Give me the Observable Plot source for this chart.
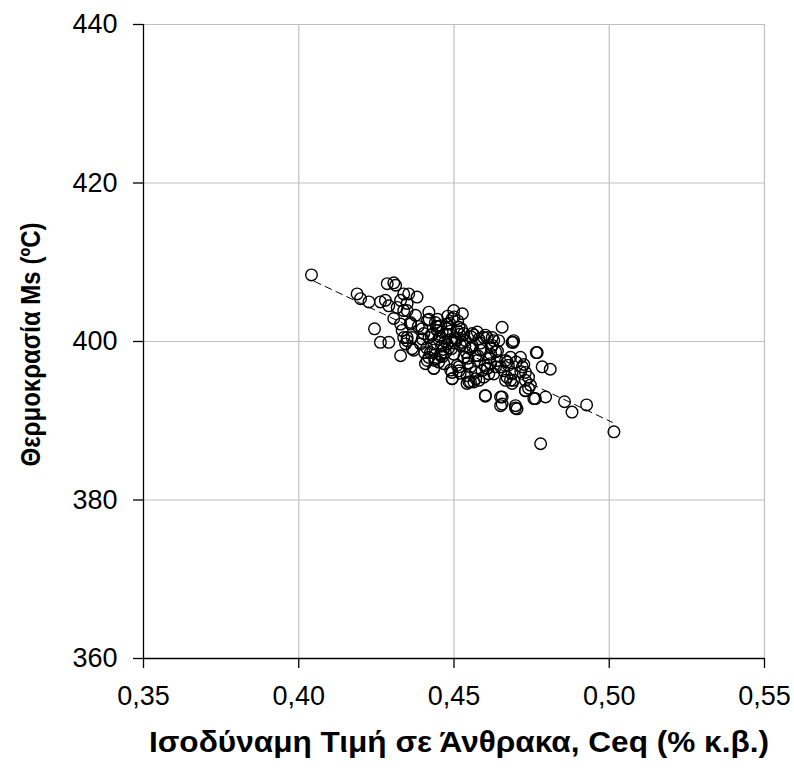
<!DOCTYPE html>
<html>
<head>
<meta charset="utf-8">
<script src="https://cdn.jsdelivr.net/npm/d3@7"></script>
<script src="https://cdn.jsdelivr.net/npm/@observablehq/plot@0.6"></script>
<style>
  html, body { margin: 0; padding: 0; background: #fff; }
</style>
</head>
<body>
<div id="chart"></div>
<script>
// Ceq (% wt) values
const ceq = [
  0.4041, 0.4188, 0.4199, 0.4226, 0.4263, 0.4285, 0.4306, 0.4312, 0.4338, 0.4279,
  0.4290, 0.4244, 0.4263, 0.4290, 0.4306, 0.4328, 0.4333, 0.4338, 0.4349, 0.4317,
  0.4349, 0.4328, 0.4344, 0.4354, 0.4349, 0.4360, 0.4376, 0.4397, 0.4440, 0.4478,
  0.4494, 0.4516, 0.4559, 0.4575, 0.4601, 0.4623, 0.4644, 0.4365, 0.4419, 0.4451,
  0.4494, 0.4537, 0.4381, 0.4419, 0.4499, 0.4527, 0.4655, 0.4360, 0.4349, 0.4370,
  0.4414, 0.4435, 0.4457, 0.4494, 0.4542, 0.4564, 0.4607, 0.4639, 0.4682, 0.4671,
  0.4692, 0.4692, 0.4628, 0.4596, 0.4564, 0.4532, 0.4510, 0.4478, 0.4446, 0.4403,
  0.4392, 0.4435, 0.4478, 0.4521, 0.4553, 0.4585, 0.4618, 0.4499, 0.4532, 0.4575,
  0.4467, 0.4510, 0.4553, 0.4596, 0.4628, 0.4424, 0.4328, 0.4338, 0.4365, 0.4408,
  0.4435, 0.4451, 0.4419, 0.4494, 0.4494, 0.4548, 0.4570, 0.4601, 0.4650, 0.4655,
  0.4516, 0.4590, 0.4612, 0.4634, 0.4666, 0.4666, 0.4687, 0.4601, 0.4655, 0.4650,
  0.4698, 0.4703, 0.4779, 0.4765, 0.4687, 0.4489, 0.4553, 0.4542, 0.4580, 0.4682,
  0.4687, 0.4730, 0.4762, 0.4795, 0.4730, 0.4746, 0.4671, 0.4714, 0.4720, 0.4730,
  0.4740, 0.4784, 0.4810, 0.4650, 0.4618, 0.4607, 0.4569, 0.4516, 0.4457, 0.4623,
  0.4634, 0.4580, 0.4607, 0.4768, 0.4856, 0.4880, 0.4927, 0.5015, 0.4757, 0.4698,
  0.4730, 0.4690, 0.4454, 0.4462, 0.4471, 0.4483, 0.4505, 0.4443, 0.4430, 0.4472,
  0.4488, 0.4503, 0.4518, 0.4460, 0.4447, 0.4432, 0.4415, 0.4457, 0.4486, 0.4512,
  0.4526, 0.4540, 0.4555, 0.4570, 0.4585, 0.4463, 0.4476, 0.4492, 0.4508, 0.4524,
  0.4412, 0.4426, 0.4440, 0.4398, 0.4385, 0.4405, 0.4420, 0.4545, 0.4560, 0.4592,
  0.4615, 0.4640, 0.4660, 0.4675, 0.4700, 0.4715, 0.4740, 0.4725, 0.4500, 0.4520,
  0.4535, 0.4480, 0.4465, 0.4450, 0.4438, 0.4545, 0.4577, 0.4600, 0.4620
];
// Ms temperature (°C) values
const ms = [
  408.4, 406.0, 405.4, 405.0, 405.0, 407.3, 407.4, 407.1, 406.0, 405.2,
  404.5, 401.6, 399.9, 399.9, 402.9, 402.2, 401.4, 400.5, 403.9, 404.3,
  400.1, 398.2, 399.7, 406.0, 404.8, 402.4, 403.3, 401.6, 402.4, 402.2,
  402.9, 401.8, 401.0, 401.2, 400.8, 400.5, 400.1, 400.5, 400.5, 400.3,
  400.1, 400.1, 405.6, 403.7, 403.9, 403.5, 401.8, 402.2, 400.5, 398.9,
  397.6, 396.6, 398.4, 395.3, 395.7, 394.9, 396.6, 397.6, 398.0, 395.5,
  395.1, 400.1, 400.1, 400.5, 400.8, 401.0, 401.4, 401.6, 401.4, 401.0,
  399.7, 399.7, 399.7, 399.5, 399.1, 398.9, 398.4, 398.4, 398.0, 397.6,
  397.2, 397.0, 396.8, 395.5, 395.9, 398.6, 405.2, 403.9, 399.1, 397.2,
  396.6, 397.4, 398.0, 396.1, 395.3, 394.9, 395.3, 393.2, 393.0, 392.1,
  396.8, 396.3, 395.9, 396.8, 397.6, 395.1, 395.9, 393.1, 393.0, 391.9,
  391.9, 391.5, 387.1, 398.6, 399.9, 396.4, 394.9, 394.7, 395.1, 395.1,
  394.7, 393.8, 392.8, 393.0, 395.1, 394.5, 397.4, 398.0, 396.8, 396.1,
  395.5, 396.8, 396.5, 396.8, 397.2, 396.6, 396.1, 396.3, 398.2, 399.5,
  398.7, 400.3, 400.5, 398.6, 392.4, 391.1, 392.0, 388.6, 392.8, 391.6,
  393.8, 399.9, 400.6, 401.2, 400.0, 399.2, 400.4, 401.9, 400.9, 398.6,
  401.3, 399.8, 400.9, 399.4, 402.8, 398.9, 402.7, 402.0, 402.3, 402.6,
  399.9, 398.6, 400.6, 398.2, 399.8, 398.1, 400.9, 399.1, 400.2, 401.6,
  399.2, 400.8, 397.8, 400.3, 401.9, 398.6, 402.8, 397.9, 399.4, 399.0,
  397.9, 398.8, 396.3, 397.0, 397.4, 396.2, 394.1, 397.1, 403.1, 396.0,
  399.4, 403.2, 399.0, 401.9, 397.6, 397.3, 398.2, 397.0, 399.2
];
// dashed trend line end points
const trendX = [0.405, 0.501];
const trendY = [407.6, 389.8];

const xTicks = [0.35, 0.40, 0.45, 0.50, 0.55];
const yTicks = [360, 380, 400, 420, 440];
const xTitle = "Ισοδύναμη Τιμή σε Άνθρακα, Ceq (% κ.β.)";
const yTitle = "Θερμοκρασία Ms (ºC)";

const points = ceq.map((c, i) => ({c, t: ms[i]}));
const trend = trendX.map((c, i) => ({c, t: trendY[i]}));
const fmt = d => d.toFixed(2).replace(".", ",");

const chart = Plot.plot({
  width: 794,
  height: 782,
  marginLeft: 143,
  marginRight: 30,
  marginTop: 24,
  marginBottom: 124,
  style: {fontFamily: '"Liberation Sans", Arial, sans-serif', background: "#fff", overflow: "visible"},
  x: {domain: [0.35, 0.55]},
  y: {domain: [360, 440]},
  marks: [
    Plot.ruleX(xTicks.slice(1), {stroke: "#c0c0c0", strokeWidth: 1.2}),
    Plot.ruleY(yTicks.slice(1), {stroke: "#c0c0c0", strokeWidth: 1.2}),
    Plot.axisX({
      ticks: xTicks, tickFormat: fmt, tickSize: 10, tickPadding: 17,
      fontSize: 27, stroke: "#000", strokeWidth: 1.3, label: null
    }),
    Plot.axisY({
      ticks: yTicks, tickSize: 10, tickPadding: 16,
      fontSize: 27, stroke: "#000", strokeWidth: 1.3, label: null
    }),
    Plot.ruleX([0.35], {stroke: "#000", strokeWidth: 1.3}),
    Plot.ruleY([360], {stroke: "#000", strokeWidth: 1.3}),
    Plot.line(trend, {x: "c", y: "t", stroke: "#000", strokeWidth: 1, strokeDasharray: "7,5"}),
    Plot.dot(points, {x: "c", y: "t", r: 5.8, stroke: "#000", strokeWidth: 1.4, fill: "none"}),
    Plot.text([xTitle], {text: d => d, frameAnchor: "bottom", dx: 5, dy: 84, lineAnchor: "middle",
      textAnchor: "middle", fontSize: 29, fontWeight: "bold"}),
    Plot.text([yTitle], {text: d => d, frameAnchor: "left", dx: -112, dy: 3, rotate: -90, lineAnchor: "middle",
      textAnchor: "middle", fontSize: 27, fontWeight: "bold"})
  ]
});
document.getElementById("chart").appendChild(chart);
// fit the titles to the lengths seen in the reference
chart.querySelectorAll("text").forEach(t => {
  const s = t.textContent;
  if (s === xTitle || s === yTitle) {
    t.setAttribute("textLength", s === xTitle ? 620 : 244);
    t.setAttribute("lengthAdjust", "spacingAndGlyphs");
  }
});
</script>
</body>
</html>
